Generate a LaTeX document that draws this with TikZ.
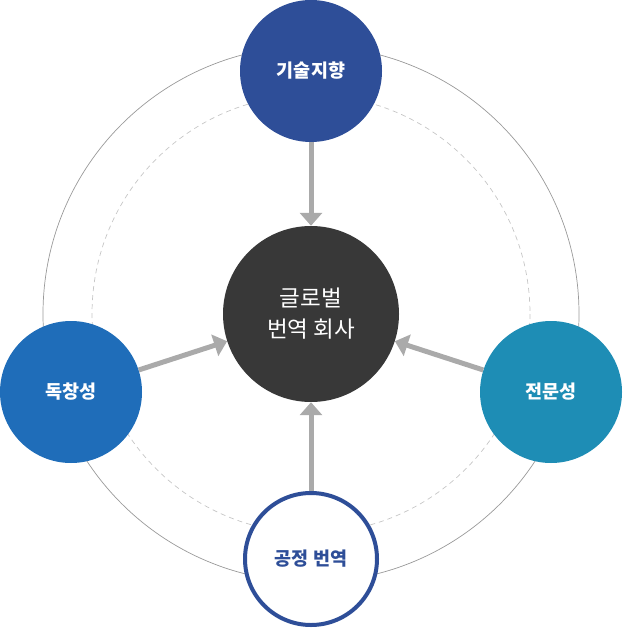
\documentclass[tikz,border=0pt]{standalone}
\usepackage{fontspec}
\usepackage{tikz}
\usetikzlibrary{arrows.meta,positioning,calc}
\newfontfamily\kr{Noto Sans CJK KR}
\definecolor{knavy}{HTML}{2E4E98}
\definecolor{kblue}{HTML}{1F6DB9}
\definecolor{kteal}{HTML}{1E8DB5}
\definecolor{kdark}{HTML}{383838}
\definecolor{kgray}{HTML}{AAAAAA}
\tikzset{
  hub/.style={circle,fill=kdark,text=white,minimum size=176pt,inner sep=0pt,align=center,font=\kr\fontsize{22.5}{31}\selectfont},
  sat/.style={circle,minimum size=142pt,inner sep=0pt,text=white,font=\kr\bfseries\fontsize{18.5}{20}\selectfont},
  ring/.style={circle,draw=knavy,line width=4pt,fill=white,minimum size=132pt,inner sep=0pt,text=knavy,font=\kr\bfseries\fontsize{18.5}{20}\selectfont},
  garr/.style={-{Triangle[length=13pt,width=22pt]},line width=5pt,draw=kgray},
}
\begin{document}
\begin{tikzpicture}[x=1pt,y=-1pt]
  \useasboundingbox (0,0) rectangle (622,628);
  % orbits
  \draw[gray!80,line width=0.7pt] (311,314) circle[radius=268];
  \draw[gray!45,dashed,dash pattern=on 5pt off 4pt,line width=0.7pt] (311,314) circle[radius=219];
  \node[hub] (c) at (311,314) {글로벌\\번역 회사};
  \node[sat,fill=knavy] (t) at (311,71) {기술지향};
  \node[sat,fill=kblue] (l) at (71,392) {독창성};
  \node[sat,fill=kteal] (r) at (551,392) {전문성};
  \node[ring] (b) at (311,559) {공정 번역};
  \foreach \a in {t,l,r,b} \draw[garr] (\a) -- (c);
\end{tikzpicture}
\end{document}
